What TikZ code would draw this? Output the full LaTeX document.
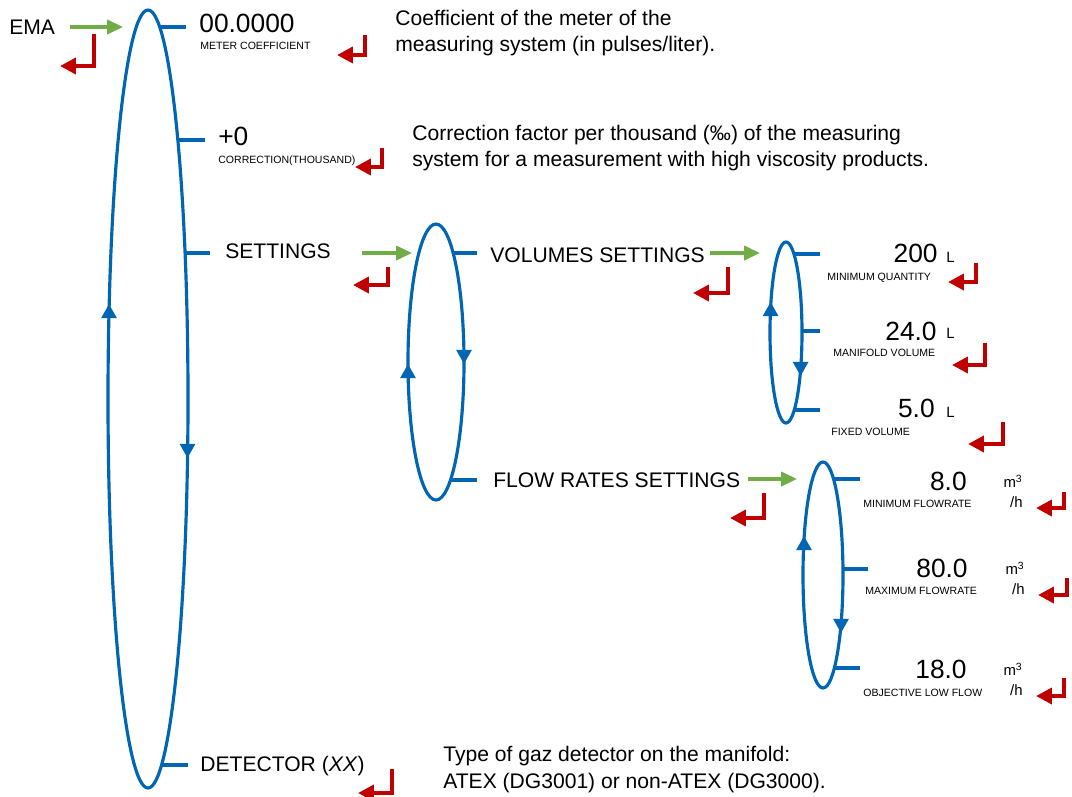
\documentclass[tikz,border=0pt]{standalone}
\usepackage{fontspec}
\setmainfont{Liberation Sans}
\usetikzlibrary{arrows.meta}
\definecolor{loopblue}{RGB}{0,101,179}
\definecolor{entergreen}{RGB}{112,173,71}
\definecolor{escred}{RGB}{192,0,0}

\begin{document}
\begin{tikzpicture}[x=0.02cm, y=-0.02cm,
    menuloop/.style={draw=loopblue, line width=1.8pt},
    branch/.style={draw=loopblue, line width=1.8pt},
    looptip/.style={draw=loopblue, line width=1.5pt, -{Triangle[length=8pt, width=8.5pt]}},
    enterkey/.style={draw=entergreen, line width=1.8pt, -{Triangle[length=9pt, width=8pt]}},
    escapekey/.style={draw=escred, line width=2.2pt, -{Triangle[length=9pt, width=9pt]}},
    itemtext/.style={anchor=base west, inner sep=0pt, font=\fontsize{12}{14}\selectfont},
    valuetext/.style={inner sep=0pt, font=\fontsize{15}{16}\selectfont},
    sublabel/.style={anchor=base west, inner sep=0pt, font=\fontsize{6}{7}\selectfont},
    unittext/.style={inner sep=0pt, align=right, font=\fontsize{8.5}{11.4}\selectfont},
    helptext/.style={anchor=north west, inner sep=0pt, align=left, font=\fontsize{12}{15}\selectfont}]
    \useasboundingbox (0,0) rectangle (1072,796);

    % the four menu loops
    \coordinate (mainloop) at (148,399);
    \coordinate (setloop)  at (436,362);
    \coordinate (volloop)  at (786,332.5);
    \coordinate (flowloop) at (823,575);
    \draw [menuloop] (mainloop) ellipse [x radius=40, y radius=389];
    \draw [menuloop] (setloop)  ellipse [x radius=28, y radius=138];
    \draw [menuloop] (volloop)  ellipse [x radius=16, y radius=90.5];
    \draw [menuloop] (flowloop) ellipse [x radius=20, y radius=113];
    % direction of travel on the loops
    \foreach \x/\y/\d in {109/310/-1, 187.5/452/1, 408/370/-1, 464/358/1,
                          770.6/308/-1, 800.6/370/1, 804/542/-1, 841/627/1}{
        \draw [looptip] (\x,{\y-6*\d}) -- (\x,{\y+6*\d});
    }
    % branches leaving the loops
    \foreach \n/\xa/\xb/\y in {meter/160/186/27, corr/178/205/140, settings/185/210/253,
                               detector/161/188/765, vol/453/477/253, flow/450/477/480,
                               minqty/794/820/254, manif/802/820/331, fixed/794/820/410,
                               minflow/834/860/479, maxflow/843/868/569, lowflow/834/860/668}{
        \draw [branch] (\xa,\y) coordinate (\n-a) -- (\xb,\y) coordinate (\n-b);
    }

    % main menu
    \node [itemtext] (ema) at (9,34) {EMA};
    \node [valuetext, anchor=base west] (meter) at (199,32) {00.0000};
    \node [sublabel] (meter-lbl) at (200,49) {METER COEFFICIENT};
    \node [valuetext, anchor=base west] (corr) at (218,145) {+0};
    \node [sublabel] (corr-lbl) at (218,163) {CORRECTION(THOUSAND)};
    \node [itemtext] (settings) at (225,258) {SETTINGS};
    \node [itemtext] (detector) at (200,771) {DETECTOR (\textit{XX})};

    % settings submenu
    \node [itemtext] (volumes) at (490,262) {VOLUMES SETTINGS};
    \node [itemtext] (flowrates) at (493,487) {FLOW RATES SETTINGS};

    % volumes
    \node [valuetext, anchor=base east] (minqty) at (938,262) {200};
    \node [unittext, anchor=base west] (minqty-u) at (946,262) {L};
    \node [sublabel] (minqty-lbl) at (827,280) {MINIMUM QUANTITY};
    \node [valuetext, anchor=base east] (manif) at (937,340) {24.0};
    \node [unittext, anchor=base west] (manif-u) at (946,338) {L};
    \node [sublabel] (manif-lbl) at (833,356) {MANIFOLD VOLUME};
    \node [valuetext, anchor=base east] (fixed) at (935,417) {5.0};
    \node [unittext, anchor=base west] (fixed-u) at (946,417) {L};
    \node [sublabel] (fixed-lbl) at (831,435) {FIXED VOLUME};

    % flow rates
    \node [valuetext, anchor=base east] (minflow) at (967,490) {8.0};
    \node [unittext, anchor=north east] (minflow-u) at (1023,475) {m\textsuperscript{3}\\/h};
    \node [sublabel] (minflow-lbl) at (863,507) {MINIMUM FLOWRATE};
    \node [valuetext, anchor=base east] (maxflow) at (968,577) {80.0};
    \node [unittext, anchor=north east] (maxflow-u) at (1025,562) {m\textsuperscript{3}\\/h};
    \node [sublabel] (maxflow-lbl) at (865,594) {MAXIMUM FLOWRATE};
    \node [valuetext, anchor=base east] (lowflow) at (967,678) {18.0};
    \node [unittext, anchor=north east] (lowflow-u) at (1023,663) {m\textsuperscript{3}\\/h};
    \node [sublabel] (lowflow-lbl) at (863,696) {OBJECTIVE LOW FLOW};

    % explanations
    \node [helptext] (meter-help) at (395,10)
        {Coefficient of the meter of the\\measuring system (in pulses/liter).};
    \node [helptext] (corr-help) at (412,125)
        {Correction factor per thousand (‰) of the measuring\\system for a measurement with high viscosity products.};
    \node [helptext] (detector-help) at (443,746)
        {Type of gaz detector on the manifold:\\ATEX (DG3001) or non-ATEX (DG3000).};

    % enter keys
    \coordinate (ema-out) at (70,27);       \coordinate (main-in) at (123,27);
    \coordinate (settings-out) at (362,253); \coordinate (set-in) at (412,253);
    \coordinate (volumes-out) at (710,253);  \coordinate (vol-in) at (760,253);
    \coordinate (flowrates-out) at (748,479); \coordinate (flow-in) at (797,479);
    \draw [enterkey] (ema-out) -- (main-in);
    \draw [enterkey] (settings-out) -- (set-in);
    \draw [enterkey] (volumes-out) -- (vol-in);
    \draw [enterkey] (flowrates-out) -- (flow-in);

    % escape keys
    \foreach \x/\ya/\yb/\xt in {94/34/66/60, 365/35/55/337, 382/148/167/355,
                                388/267/285/353, 728/267/293/693, 976/263/282/948,
                                985/343/365/952, 1003/422/444/968, 764/493/518/730,
                                1064/492/508/1036, 1067/578/595/1038, 1064/678/696/1036,
                                392/769/793/358}{
        \draw [escapekey] (\x,\ya) -- (\x,\yb) -- (\xt,\yb);
    }
\end{tikzpicture}
\end{document}
